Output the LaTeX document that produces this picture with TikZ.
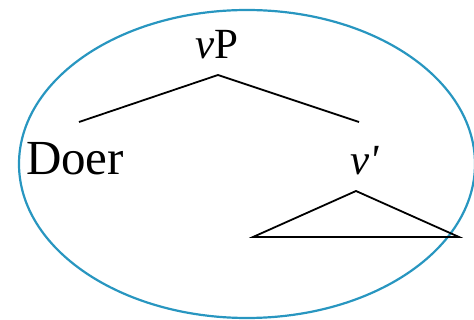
\documentclass[tikz,border=0pt]{standalone}
\usepackage{fontspec}
\setmainfont{Liberation Serif}
\usetikzlibrary{shapes.geometric}
\definecolor{ringblue}{RGB}{40,150,192}
\begin{document}
\begin{tikzpicture}[x=1pt,y=-1pt,
  lbl/.style={inner sep=0pt,anchor=base,font=\fontsize{43}{50}\selectfont},
  branch/.style={line width=1.8pt,line join=miter}]
\useasboundingbox (0,0) rectangle (474,320);
\node[draw=ringblue,line width=2.2pt,ellipse,minimum width=456pt,minimum height=308pt,inner sep=0pt] (circ) at (247,164) {};
\node[lbl] (vP) at (217,59) {\textit{v}P};
\node[lbl,font=\fontsize{49}{58}\selectfont] (doer) at (75,175) {Doer};
\node[lbl,anchor=base west] (vbar) at (350,175) {\textit{v\textquotesingle}};
\coordinate (top) at (218,75);
\coordinate (L) at (79,122);
\coordinate (R) at (359,122);
\coordinate (tA) at (356,191);
\coordinate (tL) at (253,237);
\coordinate (tR) at (459,237);
\draw[branch] (L) -- (top) -- (R);
\draw[branch] (tA) -- (tL) -- (tR) -- cycle;
\end{tikzpicture}
\end{document}
